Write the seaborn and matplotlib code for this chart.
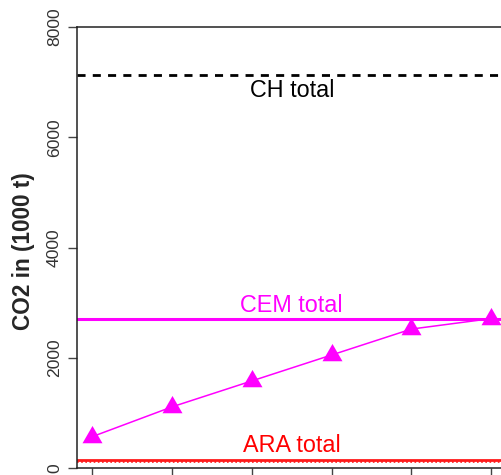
import matplotlib
matplotlib.use("Agg")
import matplotlib.pyplot as plt
from matplotlib.path import Path
import seaborn as sns
import pandas as pd

# Cumulative CEM emissions per step and reference totals (1000 t CO2)
steps = [1, 2, 3, 4, 5, 6]
cem_cumulative = [570, 1110, 1580, 2050, 2520, 2710]
ch_total = 7130
cem_total = 2710
ara_total = 145
ara_lower = 100
y_ticks = [0, 2000, 4000, 6000, 8000]
y_tick_labels = ["0", "2000", "4000", "6000", "8000"]
total_labels = ["CH total", "CEM total", "ARA total"]
label_y = [6736, 2835, 296]
label_colors = ["#000000", "#FF00FF", "#FF0000"]

sns.set_style("white")
plt.rcParams["font.family"] = ["Liberation Sans", "DejaVu Sans"]

# Filled triangle whose centroid sits on the data point
tri = Path([(0, 1.555), (1.347, -0.778), (-1.347, -0.778), (0, 1.555)],
           [Path.MOVETO, Path.LINETO, Path.LINETO, Path.CLOSEPOLY])

W, H = 501, 475
fig = plt.figure(figsize=(W / 100, H / 100), dpi=100)
ax = fig.add_axes([76.5 / W, 7 / H, (507 - 76.5) / W, (468 - 27) / H])

df = pd.DataFrame({"step": steps, "co2": cem_cumulative})

ax.axhline(ch_total, color="black", lw=2.0, dashes=(2.9, 2.6), zorder=2)
ax.axhline(cem_total, color="#FF00FF", lw=2.2, zorder=2)
ax.axhline(ara_total, color="#FF1A1A", lw=2.0, zorder=2)
ax.axhline(ara_lower, color="#FF1A1A", lw=1.2, ls=(0, (1, 1.5)), zorder=2)

sns.lineplot(data=df, x="step", y="co2", ax=ax, color="#FF00FF", lw=1.1,
             marker=tri, markersize=16.6, markeredgewidth=0,
             markerfacecolor="#FF00FF", zorder=3)

for text, yv, col in zip(total_labels, label_y, label_colors):
    ax.text(3.5, yv, text, color=col, fontsize=16.8, ha="center",
            va="baseline", zorder=4)

ax.set_xlim(0.8, 6.2)
ax.set_ylim(0, 8000)
ax.set_xticks(steps)
ax.set_xticklabels([""] * len(steps))
ax.set_yticks(y_ticks)
ax.set_yticklabels(y_tick_labels, rotation=90, va="center", color="#333333",
                   fontsize=12.6)
ax.tick_params(axis="both", direction="out", length=6.5, width=1.0,
               color="#444444", left=True, bottom=True)
ax.tick_params(axis="y", pad=4)
ax.set_xlabel("")
ax.set_ylabel("")
for side in ["left", "top", "bottom", "right"]:
    ax.spines[side].set_visible(True)
    ax.spines[side].set_color("#222222")
    ax.spines[side].set_linewidth(1.1)
ax.grid(False)

fig.text(24 / W, 1 - 251 / H, "CO2 in (1000 t)", rotation=90,
         fontsize=16.3, fontweight="bold", ha="center", va="center")

fig.savefig("out.png", dpi=100)
